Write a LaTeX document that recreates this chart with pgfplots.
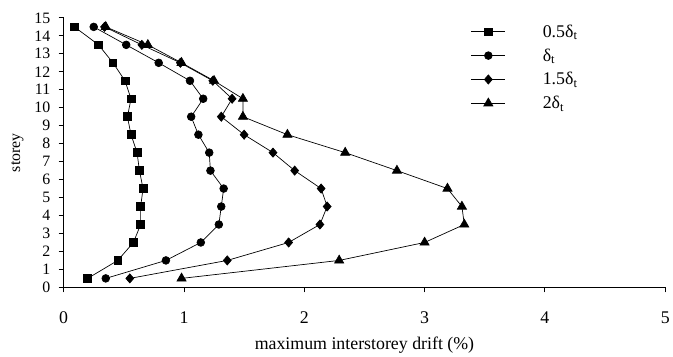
\documentclass[border=0pt]{standalone}
\usepackage{pgfplots}
\pgfplotsset{compat=1.18}
\usepackage{fontspec}
\setmainfont{Liberation Serif}
\newcommand{\dt}{δ\textsubscript{t}}
\begin{document}
\begin{tikzpicture}
\begin{axis}[
  scale only axis,
  width=605bp, height=271bp,
  xmin=0, xmax=5, ymin=0, ymax=15,
  xtick={0,1,2,3,4,5},
  ytick={0,1,...,15},
  axis x line=bottom, axis y line=left,
  axis line style={-, black, line width=0.9pt},
  tick align=outside,
  major tick length=5bp,
  tick style={black, line width=0.9pt},
  /pgf/number format/assume math mode=true,
  yticklabel style={font=\fontsize{16}{17}\selectfont, xshift=-5bp},
  xticklabel style={font=\fontsize{18}{19}\selectfont, yshift=-16bp},
  xlabel style={font=\fontsize{18}{19}\selectfont, yshift=-6bp},
  ylabel style={font=\fontsize{16}{17}\selectfont, yshift=4bp},
  xlabel={maximum interstorey drift (\%)},
  ylabel={storey},
  legend style={draw=none, fill=none, at={(0.672,0.99)}, anchor=north west,
    font=\fontsize{18}{19}\selectfont, row sep=6bp},
  legend cell align=left,
  legend image code/.code={\draw[mark repeat=2,mark phase=2] plot coordinates {(0cm,0cm) (0.6cm,0cm) (1.2cm,0cm)};\path (2.45cm,0);},
  every axis plot/.append style={black, line width=0.7pt, mark options={solid}},
]
\addplot[mark=square*, mark size=3.9pt] coordinates {
(0.20,0.5) (0.45,1.5) (0.58,2.5) (0.64,3.5) (0.64,4.5) (0.66,5.5) (0.63,6.5) (0.61,7.5)
(0.56,8.5) (0.53,9.5) (0.56,10.5) (0.51,11.5) (0.41,12.5) (0.29,13.5) (0.09,14.5)};
\addlegendentry{0.5\dt}
\addplot[mark=*, mark size=3.9pt] coordinates {
(0.35,0.5) (0.85,1.5) (1.14,2.5) (1.29,3.5) (1.31,4.5) (1.33,5.5) (1.22,6.5) (1.21,7.5)
(1.12,8.5) (1.06,9.5) (1.16,10.5) (1.05,11.5) (0.79,12.5) (0.52,13.5) (0.25,14.5)};
\addlegendentry{\dt}
\addplot[mark=diamond*, mark size=4.6pt, mark options={solid, xscale=1.15}] coordinates {
(0.55,0.5) (1.36,1.5) (1.87,2.5) (2.13,3.5) (2.19,4.5) (2.14,5.5) (1.92,6.5) (1.74,7.5)
(1.50,8.5) (1.31,9.5) (1.40,10.5) (1.24,11.5) (0.97,12.5) (0.65,13.5) (0.34,14.5)};
\addlegendentry{1.5\dt}
\addplot[mark=triangle*, mark size=5.3pt] coordinates {
(0.98,0.5) (2.29,1.5) (3.00,2.5) (3.33,3.5) (3.31,4.5) (3.19,5.5) (2.77,6.5) (2.34,7.5)
(1.86,8.5) (1.49,9.5) (1.49,10.5) (1.25,11.5) (0.98,12.5) (0.70,13.5) (0.35,14.5)};
\addlegendentry{2\dt}
\end{axis}
\path ([yshift=18bp]current axis.north);
\path ([yshift=-65bp]current axis.south);
\path ([xshift=-64bp]current axis.west);
\path ([xshift=4bp]current axis.east);
\end{tikzpicture}
\end{document}
